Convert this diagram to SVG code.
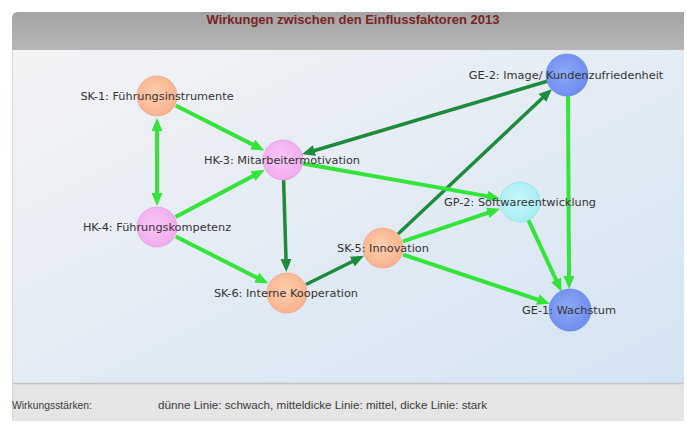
<svg xmlns="http://www.w3.org/2000/svg" width="687" height="424" viewBox="0 0 687 424">
<defs>
<style>
.lbl{font-family:"DejaVu Sans",Verdana,sans-serif;font-size:11.3px;fill:#333;text-anchor:middle}
.ft{font-family:"Liberation Sans",Arial,sans-serif;font-size:10.5px;fill:#3a3a3a}
.lt{fill:none;stroke:#35e43a;stroke-width:4}
.dk{fill:none;stroke:#1d8a3c;stroke-width:3.5}
.lt.a{marker-end:url(#mL)}
.dk.a{marker-end:url(#mD)}
</style>
<linearGradient id="hdr" x1="0" y1="0" x2="0" y2="1"><stop offset="0" stop-color="#a3a3a3"/><stop offset="1" stop-color="#b6b6b6"/></linearGradient>
<linearGradient id="cv" x1="0" y1="0" x2="1" y2="1"><stop offset="0" stop-color="#f3f3f5"/><stop offset="1" stop-color="#d3e4f3"/></linearGradient>
<radialGradient id="gSK" cx="0.45" cy="0.45" r="0.6"><stop offset="0" stop-color="#ffcfb0"/><stop offset="1" stop-color="#f7b08a"/></radialGradient>
<radialGradient id="gHK" cx="0.45" cy="0.45" r="0.6"><stop offset="0" stop-color="#fbc8f6"/><stop offset="1" stop-color="#f0a8ec"/></radialGradient>
<radialGradient id="gGP" cx="0.45" cy="0.45" r="0.6"><stop offset="0" stop-color="#c8f8fa"/><stop offset="1" stop-color="#a4ecf2"/></radialGradient>
<radialGradient id="gGE" cx="0.45" cy="0.45" r="0.6"><stop offset="0" stop-color="#8fa9f7"/><stop offset="1" stop-color="#6b8cee"/></radialGradient>
<marker id="mL" markerUnits="userSpaceOnUse" markerWidth="13" markerHeight="11" viewBox="0 0 13 11" refX="4" refY="5.5" orient="auto-start-reverse"><path d="M0,0 L13,5.5 L0,11 z" fill="#35e43a"/></marker>
<marker id="mD" markerUnits="userSpaceOnUse" markerWidth="13" markerHeight="11" viewBox="0 0 13 11" refX="4" refY="5.5" orient="auto-start-reverse"><path d="M0,0 L13,5.5 L0,11 z" fill="#1d8a3c"/></marker>
</defs>
<rect width="687" height="424" fill="#ffffff"/>
<g id="panel">
<path d="M12,18 Q12,12 18,12 L684,12 L684,50 L12,50 z" fill="url(#hdr)"/>
<rect x="12" y="50" width="672" height="333" fill="url(#cv)"/>
<rect x="12" y="383" width="672" height="38" fill="#e5e5e5"/>
<line x1="12" y1="383.5" x2="684" y2="383.5" stroke="#c4c4c4" stroke-width="1.5"/>
<line x1="12.5" y1="50" x2="12.5" y2="421" stroke="#d8d8d8" stroke-width="1"/>
<text x="353" y="24" font-family="Liberation Sans,Arial,sans-serif" font-size="12.5" font-weight="bold" fill="#7a2424" text-anchor="middle" textLength="293" lengthAdjust="spacingAndGlyphs">Wirkungen zwischen den Einflussfaktoren 2013</text>
<text class="ft" x="12" y="409" textLength="80" lengthAdjust="spacingAndGlyphs">Wirkungsstärken:</text>
<text class="ft" x="158" y="409" textLength="329" lengthAdjust="spacingAndGlyphs">dünne Linie: schwach, mitteldicke Linie: mittel, dicke Linie: stark</text>
</g>
<g id="connectors">
<path class="lt a" d="M157,127 L157,197" marker-start="url(#mL)"/>
<path class="lt a" d="M175.7,105.5 L256.3,146.4"/>
<path class="lt a" d="M175.5,217.1 L256.6,174.1"/>
<path class="lt a" d="M175.7,236.5 L260.3,279.4"/>
<path class="dk a" d="M283.6,180 L286.1,263"/>
<path class="dk a" d="M306,284.5 L355.9,259.8"/>
<path class="dk a" d="M398,234 L545.4,95.2"/>
<path class="dk a" d="M548,81 L310.6,151.7"/>
<path class="lt a" d="M302.7,163.5 L491.1,196.9"/>
<path class="lt a" d="M402.9,241.3 L491.5,211.6"/>
<path class="lt a" d="M403,254.6 L541.5,300.9"/>
<path class="lt a" d="M528.4,220.2 L557.8,283.6"/>
<path class="lt a" d="M568,96 L569,280"/>
</g>
<g id="SK-1"><circle cx="157" cy="96" r="20" fill="url(#gSK)" stroke="#f0a88a" stroke-width="0.8"/><text class="lbl" x="157" y="100">SK-1: Führungsinstrumente</text></g>
<g id="HK-3"><circle cx="283" cy="160" r="20" fill="url(#gHK)" stroke="#e6a0e2" stroke-width="0.8"/><text class="lbl" x="282" y="164">HK-3: Mitarbeitermotivation</text></g>
<g id="HK-4"><circle cx="157" cy="227" r="20" fill="url(#gHK)" stroke="#e6a0e2" stroke-width="0.8"/><text class="lbl" x="157" y="231">HK-4: Führungskompetenz</text></g>
<g id="SK-6"><circle cx="287" cy="293" r="20" fill="url(#gSK)" stroke="#f0a88a" stroke-width="0.8"/><text class="lbl" x="286" y="297">SK-6: Interne Kooperation</text></g>
<g id="SK-5"><circle cx="383" cy="248" r="20" fill="url(#gSK)" stroke="#f0a88a" stroke-width="0.8"/><text class="lbl" x="383" y="252">SK-5: Innovation</text></g>
<g id="GP-2"><circle cx="520" cy="202" r="20" fill="url(#gGP)" stroke="#98e0e8" stroke-width="0.8"/><text class="lbl" x="520" y="206">GP-2: Softwareentwicklung</text></g>
<g id="GE-2"><circle cx="567" cy="75" r="21" fill="url(#gGE)" stroke="#6a88e0" stroke-width="0.8"/><text class="lbl" x="566" y="79">GE-2: Image/ Kundenzufriedenheit</text></g>
<g id="GE-1"><circle cx="570" cy="310" r="21" fill="url(#gGE)" stroke="#6a88e0" stroke-width="0.8"/><text class="lbl" x="569" y="314">GE-1: Wachstum</text></g>
</svg>
